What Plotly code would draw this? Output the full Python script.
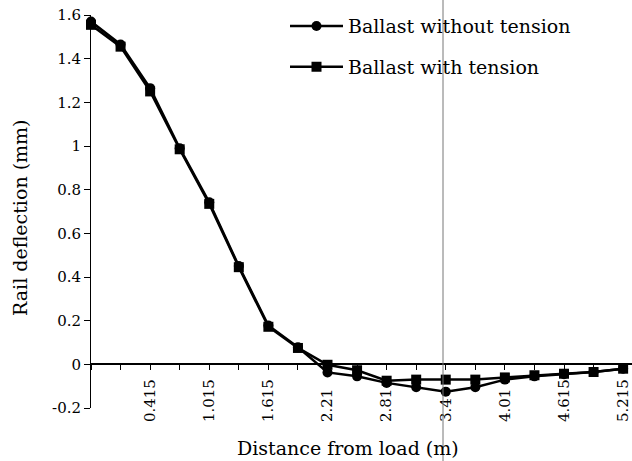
import plotly.graph_objects as go

distances = ["0", "0.115", "0.415", "0.715", "1.015", "1.315", "1.615", "1.915",
             "2.215", "2.515", "2.815", "3.115", "3.415", "3.715", "4.015",
             "4.315", "4.615", "4.915", "5.215"]
without_tension = [1.57, 1.465, 1.265, 0.99, 0.742, 0.45, 0.178, 0.078, -0.037, -0.055,
                   -0.085, -0.105, -0.125, -0.105, -0.07, -0.055, -0.045, -0.035, -0.02]
with_tension = [1.555, 1.455, 1.25, 0.985, 0.735, 0.445, 0.172, 0.075, -0.002, -0.027,
                -0.075, -0.07, -0.07, -0.07, -0.06, -0.05, -0.043, -0.035, -0.02]
# labels as visible in the reference (partly hidden there); figure spaces keep them bottom-aligned
FS = "\u2007"
tick_labels = ["", "", "0.415", "", "1.015", "", "1.615", "", "2.21" + FS, "", "2.81" + FS, "",
               "3.4" + FS + FS, "", "4.01" + FS, "", "4.615", "", "5.215"]
y_ticks = [-0.2, 0, 0.2, 0.4, 0.6, 0.8, 1, 1.2, 1.4, 1.6]
y_tick_labels = ["-0.2", "0", "0.2", "0.4", "0.6", "0.8", "1", "1.2", "1.4", "1.6"]

FONT = "DejaVu Serif"

fig = go.Figure()
fig.add_trace(go.Scatter(
    x=distances, y=without_tension, mode="lines+markers",
    name="Ballast without tension", legendgroup="a",
    line=dict(color="black", width=2.5),
    marker=dict(symbol="circle", size=10, color="black"),
    cliponaxis=False,
))
fig.add_trace(go.Scatter(
    x=distances, y=with_tension, mode="lines+markers",
    name="Ballast with tension", legendgroup="b",
    line=dict(color="black", width=2.5),
    marker=dict(symbol="square", size=10, color="black"),
    cliponaxis=False,
))

ml, mr, mt, mb = 91, 0, 15, 53
W, H = 632, 461
pw = W - ml - mr
ph = H - mt - mb

fig.update_layout(
    width=W, height=H,
    margin=dict(l=ml, r=mr, t=mt, b=mb, autoexpand=False),
    paper_bgcolor="white", plot_bgcolor="white",
    font=dict(family=FONT, size=15, color="black"),
    showlegend=True,
    legend=dict(x=(285 - ml) / pw, y=1.02, xanchor="left", yanchor="top",
                bgcolor="rgba(0,0,0,0)", font=dict(family=FONT, size=19),
                tracegroupgap=13, itemwidth=53),
    xaxis=dict(
        type="category", categoryorder="array", categoryarray=distances,
        range=[0, 18.3], automargin=False,
        anchor="free", position=0.2 / 1.8,
        showline=True, linecolor="black", linewidth=1.5,
        showgrid=False, zeroline=False,
        tickmode="array", tickvals=distances, ticktext=tick_labels,
        ticks="outside", ticklen=5, tickcolor="black",
        tickangle=-90, tickfont=dict(family=FONT, size=15),
        ticklabelstandoff=3,
    ),
    yaxis=dict(
        range=[-0.2, 1.6], automargin=False,
        showline=True, linecolor="black", linewidth=1,
        showgrid=False, zeroline=False,
        tickmode="array", tickvals=y_ticks, ticktext=y_tick_labels,
        ticks="outside", ticklen=6, tickcolor="black",
        tickfont=dict(family=FONT, size=15),
    ),
)

fig.add_annotation(text="Distance from load (m)", xref="paper", yref="paper",
                   x=(348 - ml) / pw, y=(H - mb - 448) / ph,
                   xanchor="center", yanchor="middle", showarrow=False,
                   font=dict(family=FONT, size=19))
fig.add_annotation(text="Rail deflection (mm)", xref="paper", yref="paper",
                   x=(20 - ml) / pw, y=(H - mb - 218) / ph, textangle=-90,
                   xanchor="center", yanchor="middle", showarrow=False,
                   font=dict(family=FONT, size=19))

# thin vertical scan line crossing the whole figure
fig.add_shape(type="line", xref="paper", yref="paper",
              x0=(443 - ml) / pw, x1=(443 - ml) / pw,
              y0=-mb / ph, y1=1 + mt / ph,
              line=dict(color="#777777", width=1))

fig.write_html("out.html", config={"displayModeBar": False},
               post_script="document.body.style.margin='0';")
